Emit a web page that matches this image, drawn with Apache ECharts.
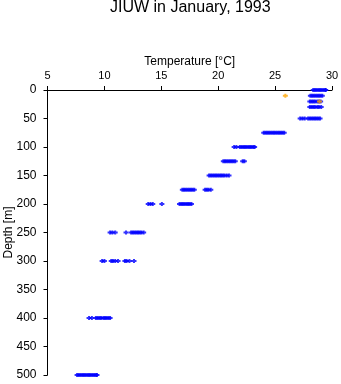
<!DOCTYPE html>
<html><head><meta charset="utf-8">
<script src="https://cdn.jsdelivr.net/npm/echarts@6/dist/echarts.min.js"></script>
<style>html,body{margin:0;padding:0;background:#fff}#c{width:341px;height:384px}</style>
</head><body><div id="c"></div>
<script>
const titleText = 'JIUW in January, 1993';
const xName = 'Temperature [°C]';
const yName = 'Depth [m]';
const depthLevels = [0, 10, 20, 30, 50, 75, 100, 125, 150, 175, 200, 250, 300, 400, 500];
const t0   = [28.35, 28.5, 28.65, 28.8, 28.95, 29.1, 29.25, 29.4, 29.45];
const t10  = [28.1, 28.25, 28.4, 28.55, 28.7, 28.85, 29.0, 29.15];
const t20  = [28.05, 28.2, 28.35, 28.5, 28.7, 28.85, 29.0];
const t30  = [28.05, 28.2, 28.35, 28.5, 28.7, 28.85, 29.05];
const t50  = [27.2, 27.4, 27.6, 27.9, 28.05, 28.2, 28.35, 28.5, 28.65, 28.8, 28.95];
const t75  = [24.0, 24.15, 24.3, 24.45, 24.6, 24.75, 24.9, 25.05, 25.2, 25.35, 25.5, 25.65, 25.8];
const t100 = [21.4, 21.6, 21.9, 22.05, 22.2, 22.35, 22.5, 22.65, 22.8, 22.95, 23.1, 23.2];
const t125 = [20.45, 20.6, 20.75, 20.9, 21.05, 21.2, 21.35, 21.5, 22.15, 22.3];
const t150 = [19.2, 19.35, 19.5, 19.65, 19.8, 19.95, 20.1, 20.25, 20.4, 20.55, 20.75, 20.95];
const t175 = [16.85, 17.0, 17.15, 17.3, 17.45, 17.6, 17.75, 17.9, 18.85, 19.0, 19.15, 19.35];
const t200 = [13.85, 14.05, 14.25, 15.05, 16.6, 16.75, 16.9, 17.05, 17.2, 17.35, 17.5, 17.65];
const t250 = [10.5, 10.7, 10.95, 11.9, 12.35, 12.5, 12.65, 12.8, 12.95, 13.1, 13.25, 13.45];
const t300 = [9.8, 10.0, 10.6, 10.75, 10.95, 11.2, 11.8, 11.95, 12.2, 12.6];
const t400 = [8.65, 8.9, 9.25, 9.4, 9.55, 9.7, 9.9, 10.05, 10.2, 10.35, 10.5];
const t500 = [7.6, 7.75, 7.9, 8.05, 8.2, 8.35, 8.5, 8.65, 8.8, 8.95, 9.1, 9.25, 9.35];
const blueTemps = [t0, t10, t20, t30, t50, t75, t100, t125, t150, t175, t200, t250, t300, t400, t500];
const orangeTemps = [25.9, 28.9];
const orangeDepths = [10, 20];

const blueData = [];
depthLevels.forEach((d, i) => blueTemps[i].forEach(t => blueData.push([t, d])));
const orangeData = orangeTemps.map((t, i) => [t, orangeDepths[i]]);

const plus = 'path://M0,1H5V3H0Z M1.5,0H3.5V4H1.5Z';
const font = 'Liberation Sans';
const chart = echarts.init(document.getElementById('c'), null, {renderer: 'canvas'});
chart.setOption({
  animation: false,
  backgroundColor: '#fff',
  title: {text: titleText, left: 110, top: 0, padding: 0,
    textStyle: {fontFamily: font, fontSize: 16, fontWeight: 'normal', color: '#000'}},
  grid: {left: 47.5, top: 90, width: 284.5, height: 285, containLabel: false, outerBoundsMode: 'none'},
  xAxis: {type: 'value', position: 'top', min: 5, max: 30, interval: 5,
    name: xName, nameLocation: 'middle', nameGap: 22, nameMoveOverlap: false,
    nameTextStyle: {fontFamily: font, fontSize: 12, color: '#000'},
    axisLine: {show: true, onZero: false, lineStyle: {color: '#000', width: 1}},
    axisTick: {show: true, length: 4, lineStyle: {color: '#000'}},
    axisLabel: {fontFamily: font, fontSize: 11, color: '#000', margin: 9},
    splitLine: {show: false}},
  yAxis: {type: 'value', inverse: true, min: 0, max: 500, interval: 50,
    name: yName, nameLocation: 'middle', nameGap: 33, nameMoveOverlap: false,
    nameTextStyle: {fontFamily: font, fontSize: 12, color: '#000'},
    axisLine: {show: true, onZero: false, lineStyle: {color: '#000', width: 1}},
    axisTick: {show: true, length: 4, lineStyle: {color: '#000'}},
    axisLabel: {fontFamily: font, fontSize: 12, color: '#000', margin: 11},
    splitLine: {show: false}},
  series: [
    {type: 'scatter', data: blueData, symbol: plus, symbolSize: [5, 4],
      itemStyle: {color: '#0000ff'}},
    {type: 'scatter', data: orangeData, symbol: plus, symbolSize: [5, 4],
      itemStyle: {color: '#ffa500'}}
  ]
});
</script></body></html>
